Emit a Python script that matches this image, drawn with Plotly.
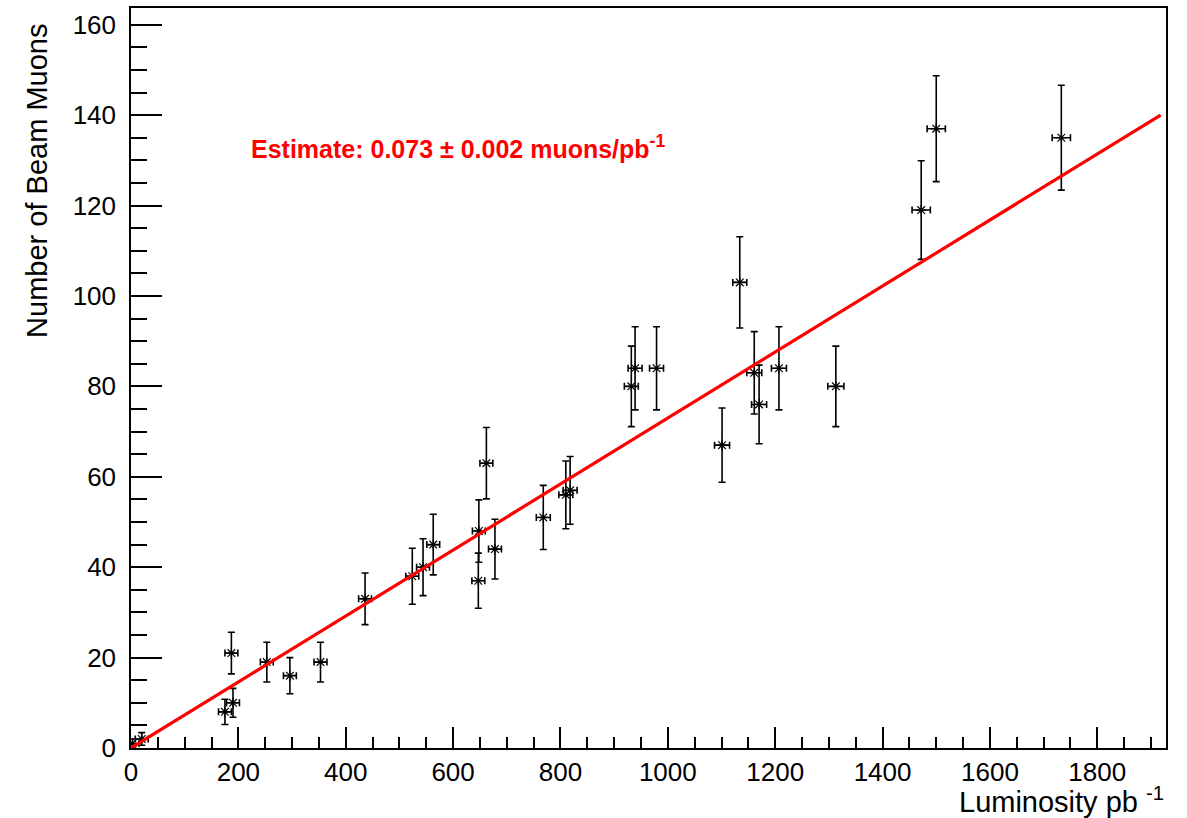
import plotly.graph_objects as go

# Data
luminosity = [3, 20, 175, 187, 190, 253, 296, 353, 436, 524, 544, 563, 647, 648, 662, 678,
              768, 810, 818, 932, 939, 979, 1101, 1134, 1161, 1170, 1207, 1313, 1472, 1500, 1733]
muons = [1, 2, 8, 21, 10, 19, 16, 19, 33, 38, 40, 45, 37, 48, 63, 44,
         51, 56, 57, 80, 84, 84, 67, 103, 83, 76, 84, 80, 119, 137, 135]
muon_err = [1.0, 1.4, 2.8, 4.6, 3.2, 4.4, 4.0, 4.4, 5.7, 6.2, 6.3, 6.7, 6.1, 6.9, 7.9, 6.6,
            7.1, 7.5, 7.5, 8.9, 9.2, 9.2, 8.2, 10.1, 9.1, 8.7, 9.2, 8.9, 10.9, 11.7, 11.6]
lum_err = [12, 12, 12, 12, 12, 12, 12, 12, 12, 12, 12, 12, 12, 12, 12, 12,
           13, 13, 13, 13, 13, 13, 14, 13, 14, 14, 14, 15, 17, 17, 17]

fit_slope = 0.073
fit_x = [0, 1918]
fit_y = [fit_slope * v for v in fit_x]

x_ticks = [0, 200, 400, 600, 800, 1000, 1200, 1400, 1600, 1800]
y_ticks = [0, 20, 40, 60, 80, 100, 120, 140, 160]

FONT = "Liberation Sans, Arial, Helvetica, sans-serif"

fig = go.Figure()

fig.add_trace(go.Scatter(
    x=luminosity, y=muons, mode="markers",
    marker=dict(symbol="asterisk-open", size=9, color="black",
                line=dict(color="black", width=1.2)),
    error_y=dict(type="data", array=muon_err, visible=True, color="black",
                 thickness=1.6, width=3.5),
    error_x=dict(type="data", array=lum_err, visible=True, color="black",
                 thickness=1.6, width=3.5),
    showlegend=False,
))

fig.add_trace(go.Scatter(
    x=fit_x, y=fit_y, mode="lines",
    line=dict(color="#ff0000", width=3.2),
    showlegend=False,
))

fig.update_layout(
    width=1187, height=818,
    margin=dict(l=131, r=21, t=6, b=70),
    paper_bgcolor="white", plot_bgcolor="white",
    font=dict(family=FONT, color="black"),
    annotations=[
        dict(x=220, y=133, xref="x", yref="y", xanchor="left", yanchor="middle",
             text="<b>Estimate: 0.073 \u00b1 0.002 muons/pb<sup>-1</sup></b>",
             showarrow=False, font=dict(family=FONT, size=25, color="#ff0000")),
        dict(x=1.0, y=-0.07, xref="paper", yref="paper", xanchor="right", yanchor="middle",
             text="Luminosity pb <sup>-1</sup>", showarrow=False,
             font=dict(family=FONT, size=29, color="black")),
        dict(x=-0.091, y=0.981, xref="paper", yref="paper", xanchor="center", yanchor="top",
             text="Number of Beam Muons", textangle=-90, showarrow=False,
             font=dict(family=FONT, size=29, color="black")),
    ],
)

fig.update_xaxes(
    range=[0, 1928], showgrid=False, zeroline=False,
    showline=True, linecolor="black", linewidth=1.5, mirror=True,
    tickmode="array", tickvals=x_ticks, ticktext=[str(v) for v in x_ticks],
    ticks="inside", ticklen=21, tickwidth=1.5, tickcolor="black",
    tickfont=dict(family=FONT, size=26, color="black"),
    ticklabelstandoff=0,
    minor=dict(dtick=50, tick0=0, ticks="inside", ticklen=11, tickwidth=1.5, tickcolor="black",
               showgrid=False),
)
fig.update_yaxes(
    range=[0, 163.7], showgrid=False, zeroline=False,
    showline=True, linecolor="black", linewidth=1.5, mirror=True,
    tickmode="array", tickvals=y_ticks, ticktext=[str(v) for v in y_ticks],
    ticks="inside", ticklen=31, tickwidth=1.5, tickcolor="black",
    tickfont=dict(family=FONT, size=26, color="black"),
    ticklabelstandoff=8,
    minor=dict(dtick=5, tick0=0, ticks="inside", ticklen=16, tickwidth=1.5, tickcolor="black",
               showgrid=False),
)

fig.write_html("out.html")
